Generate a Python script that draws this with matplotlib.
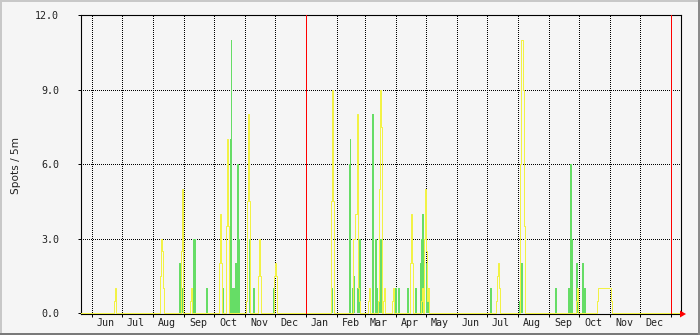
import numpy as np
import pandas as pd
import matplotlib
matplotlib.use('Agg')
import matplotlib.pyplot as plt
import matplotlib.dates as mdates
from matplotlib.patches import Rectangle, Polygon

# ---------------- data ----------------
start_date = '2017-05-21'
end_date = '2019-01-11'

green_dates = [
    '2017-08-27', '2017-08-28', '2017-08-29', '2017-08-30',
    '2017-09-10', '2017-09-11', '2017-09-12', '2017-09-23', '2017-09-24',
    '2017-10-09', '2017-10-10', '2017-10-16', '2017-10-17', '2017-10-18',
    '2017-10-19', '2017-10-20', '2017-10-21', '2017-10-22', '2017-10-23',
    '2017-10-24', '2017-10-25', '2017-10-26',
    '2017-11-05', '2017-11-06', '2017-11-09', '2017-11-10',
    '2017-11-29', '2017-11-30',
    '2018-01-27',
    '2018-02-13', '2018-02-14', '2018-02-16', '2018-02-17', '2018-02-18',
    '2018-02-21', '2018-02-22', '2018-02-23', '2018-02-24',
    '2018-03-08', '2018-03-09', '2018-03-11', '2018-03-12', '2018-03-13',
    '2018-03-15', '2018-03-16', '2018-03-17', '2018-03-18', '2018-03-31',
    '2018-04-01', '2018-04-03', '2018-04-04', '2018-04-12', '2018-04-13',
    '2018-04-20', '2018-04-21', '2018-04-25', '2018-04-26', '2018-04-27',
    '2018-04-28',
    '2018-05-01', '2018-05-02', '2018-05-03', '2018-05-04',
    '2018-07-04', '2018-07-05',
    '2018-08-02', '2018-08-03', '2018-08-04', '2018-08-05',
    '2018-09-07', '2018-09-08', '2018-09-20', '2018-09-21', '2018-09-22',
    '2018-09-23', '2018-09-24', '2018-09-28', '2018-09-29',
    '2018-10-04', '2018-10-05', '2018-10-06', '2018-10-07',
]
green_vals = [
    2.0, 2.0, 1.0, 1.0,
    3.0, 3.0, 3.0, 1.0, 1.0,
    1.0, 1.0, 1.0, 7.0, 11.0,
    1.0, 1.0, 1.0, 2.0, 2.0,
    6.0, 6.0, 3.0,
    3.0, 3.0, 1.0, 1.0,
    1.0, 1.0,
    1.0,
    6.0, 7.0, 1.0, 1.5, 1.5,
    1.0, 1.0, 3.0, 3.0,
    8.0, 8.0, 3.0, 3.0, 1.0,
    3.0, 3.0, 3.0, 1.0, 1.0,
    1.0, 1.0, 1.0, 1.0, 1.0,
    1.0, 1.0, 2.0, 3.0, 4.0,
    4.0,
    2.0, 2.0, 1.0, 1.0,
    1.0, 1.0,
    0.5, 0.5, 2.0, 2.0,
    1.0, 1.0, 1.0, 1.0, 6.0,
    6.0, 3.0, 2.0, 2.0,
    2.0, 2.0, 1.0, 1.0,
]

yellow_dates = [
    '2017-06-23', '2017-06-24',
    '2017-08-08', '2017-08-09', '2017-08-10', '2017-08-11',
    '2017-08-29', '2017-08-30', '2017-09-07', '2017-09-08',
    '2017-10-06', '2017-10-07', '2017-10-08',
    '2017-10-13', '2017-10-14', '2017-10-15',
    '2017-11-02', '2017-11-03', '2017-11-04', '2017-11-05',
    '2017-11-14', '2017-11-15', '2017-11-16',
    '2017-11-30', '2017-12-01', '2017-12-02',
    '2018-01-26', '2018-01-27', '2018-01-28',
    '2018-02-17', '2018-02-18', '2018-02-19', '2018-02-20', '2018-02-21',
    '2018-02-22', '2018-02-23',
    '2018-03-04', '2018-03-05', '2018-03-14', '2018-03-15', '2018-03-16',
    '2018-03-17', '2018-03-19', '2018-03-20', '2018-03-28', '2018-03-29',
    '2018-04-15', '2018-04-16', '2018-04-17',
    '2018-04-26', '2018-04-27', '2018-04-29', '2018-04-30',
    '2018-05-01', '2018-05-02', '2018-05-03',
    '2018-07-10', '2018-07-11', '2018-07-12', '2018-07-13',
    '2018-08-03', '2018-08-04', '2018-08-05', '2018-08-06', '2018-08-07',
    '2018-09-28', '2018-09-29',
    '2018-10-19', '2018-10-20', '2018-10-21', '2018-10-22', '2018-10-23',
    '2018-10-24', '2018-10-25', '2018-10-26', '2018-10-27', '2018-10-28',
    '2018-10-29', '2018-10-30', '2018-10-31', '2018-11-01', '2018-11-02',
]
yellow_vals = [
    0.5, 1.0,
    1.5, 3.0, 2.5, 1.0,
    2.5, 5.0, 0.5, 1.0,
    2.0, 4.0, 2.0,
    3.5, 7.0, 3.5,
    0.5, 4.5, 8.0, 4.5,
    1.5, 3.0, 1.5,
    1.5, 2.0, 1.5,
    4.5, 9.0, 4.5,
    3.0, 3.0, 4.0, 4.0, 8.0,
    1.0, 0.5,
    0.5, 1.0, 0.5, 5.0, 9.0,
    7.5, 0.5, 1.0, 0.5, 1.0,
    2.0, 4.0, 2.0,
    0.5, 1.0, 3.0, 5.0,
    2.5, 0.5, 1.0,
    0.5, 1.5, 2.0, 1.0,
    6.0, 11.0, 11.0, 9.0, 3.5,
    0.5, 1.0,
    0.5, 1.0, 1.0, 1.0, 1.0,
    1.0, 1.0, 1.0, 1.0, 1.0,
    1.0, 1.0, 1.0, 1.0, 0.5,
]

year_marks = ['2018-01-01', '2019-01-01']
month_labels = ['Jun', 'Jul', 'Aug', 'Sep', 'Oct', 'Nov', 'Dec',
                'Jan', 'Feb', 'Mar', 'Apr', 'May', 'Jun', 'Jul', 'Aug',
                'Sep', 'Oct', 'Nov', 'Dec']
y_ticks = [0, 3, 6, 9, 12]
y_tick_labels = ['0.0', '3.0', '6.0', '9.0', '12.0']
y_label = 'Spots / 5m'

# ---------------- figure ----------------
W, H = 700, 335
BG = '#f5f5f5'
GREEN = '#66dd66'
YELLOW = '#f2f244'

fig = plt.figure(figsize=(W / 100, H / 100), dpi=100, facecolor=BG)

def px_rect(x, y, w, h, color):
    fig.patches.append(Rectangle((x / W, 1 - (y + h) / H), w / W, h / H,
                                 transform=fig.transFigure, color=color,
                                 lw=0, zorder=0))

# 3D-ish frame
px_rect(0, 0, W, 2, '#c8c8c8')
px_rect(0, 0, 2, H, '#c8c8c8')
px_rect(0, H - 2, W, 2, '#7a7a7a')
px_rect(W - 2, 0, 2, H, '#8a8a8a')

L, R, T, B = 81, 681, 15, 314
ax = fig.add_axes([L / W, 1 - B / H, (R - L) / W, (B - T) / H])
ax.set_facecolor(BG)

days = pd.date_range(start_date, end_date, freq='D')
yellow = pd.Series(0.0, index=days)
yellow.loc[pd.to_datetime(yellow_dates)] = yellow_vals
xnum = mdates.date2num(days)

gx = mdates.date2num(pd.to_datetime(green_dates))
ax.bar(gx, green_vals, width=1.0, align='edge', color=GREEN, lw=0,
       zorder=2)
ax.step(xnum, yellow.values, where='post', color=YELLOW, lw=0.72,
        zorder=3, snap=True)

x0 = mdates.date2num(pd.Timestamp(start_date))
x1 = mdates.date2num(pd.Timestamp(end_date))
ax.set_xlim(x0, x1)
ax.set_ylim(-0.04, 12.0)

# grid
dot = (0, (1, 2))
month_starts = pd.date_range('2017-06-01', '2019-01-01', freq='MS')
for m in month_starts:
    ax.axvline(mdates.date2num(m), color='black', lw=0.72, ls=dot, zorder=1,
               snap=True, antialiased=False)
for yv in y_ticks[1:-1]:
    ax.axhline(yv, color='black', lw=0.72, ls=dot, zorder=1, snap=True,
               antialiased=False)
for ym in year_marks:
    ax.axvline(mdates.date2num(pd.Timestamp(ym)), color='#ff0000', lw=0.72,
               zorder=4, snap=True)

# ticks
ax.set_xticks(mdates.date2num(month_starts))
ax.set_xticklabels([])
label_pos = mdates.date2num(pd.date_range('2017-06-01', '2018-12-01',
                                          freq='MS') + pd.Timedelta(days=14))
ax.set_xticks(label_pos, minor=True)
ax.set_xticklabels(month_labels, minor=True, fontfamily='DejaVu Sans Mono',
                   fontsize=7.2, color='#222222')
ax.tick_params(axis='x', which='major', length=2.2, width=0.72,
               direction='out', color='black')
ax.tick_params(axis='x', which='minor', length=0, pad=3)

ax.set_yticks(y_ticks)
ax.set_yticklabels(y_tick_labels, fontfamily='DejaVu Sans Mono', fontsize=7.2,
                   color='#222222')
ax.tick_params(axis='y', which='major', length=2.2, width=0.72,
               direction='out', pad=13.5, color='black')

for s in ax.spines.values():
    s.set_color('black')
    s.set_linewidth(0.8)

fig.text(16 / W, 1 - 166 / H, y_label, rotation=90, ha='center', va='center',
         fontsize=7.6, family='DejaVu Sans', color='#222222')

# red arrow at end of x axis
ax_arrow = Polygon([((R - 1) / W, 1 - (B - 3.5) / H),
                    ((R + 5) / W, 1 - B / H),
                    ((R - 1) / W, 1 - (B + 3.5) / H)],
                   closed=True, transform=fig.transFigure, color='#ff0000',
                   lw=0, zorder=5)
fig.patches.append(ax_arrow)

fig.savefig('out.png', dpi=100, facecolor=BG)
